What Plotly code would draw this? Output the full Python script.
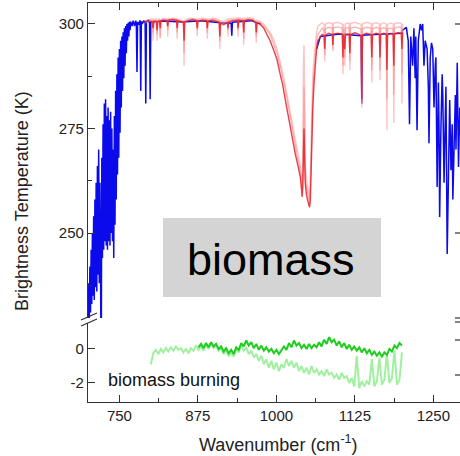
import plotly.graph_objects as go

# ---------------- data ----------------
wn_blue = [700,701,702,703,704,705,706,707,708,709,710,711,712,713,714,715,716,717,718,719,
           720,721,722,723,724,725,726,727,728,729,730,731,732,733,734,735,736,737,738,739,
           740,741,742,743,744,745,746,747,748,749,750,751,752,753,754,755,756,757,758,759,
           760,761,762,763,764,765,766,767,768,770,772,774,776,777,778,779,781,783,784,785,
           787,789,791,792,793,796,798,799,800,
           820,850,880,910,928,929,930,960,975,990,1064,1070,
           1100,1135,1136,1137,1170,1199,
           1201,1204,1207,1209,1210,1212,1214,1217,1219,1221,1222,1224,1226,1229,1231,1233,1235,1237,1240,1242,
           1243,1245,1247,1249,1251,1253,1254,1256,1258,1259,1260,1262,1264,1265,1267,1269,1270,1272,1274,1276,
           1278,1280,1281,1283,1285,1286,1288,1290,1292,1294]
bt_blue = [226,238,229,242,231,246,233,250,235,254,234,258,237,262,236,266,240,270,238,262,
           242,212,268,244,276,246,281,248,282,247,278,246,280,248,277,247,279,250,275,248,
           270,244,278,252,284,258,288,264,292,268,294,274,296,280,297,284,298,287,299,290,
           299.5,293,300,296,300.3,297,300.5,298.5,300.6,299.5,300.8,299.5,300.8,300,288.5,300.5,299.8,300.9,284,300.6,
           300.2,300.8,300.2,281,300.5,300.9,300.2,282,300.5,
           300.7,300.5,300.8,300.3,300.2,297.2,300.4,300.8,300,None,294,297,
           297.6,297.2,281,297.3,297.6,297.8,
           298.5,298.8,299.2,297,296,276,297,290,299,287,297,274.6,296,300,298.5,300,290,296,294,285,
           271.5,292,295.5,294,280,290,292,261,286,275,253.8,275,288,283,262,278,285,245,270,281.8,
           265,276,258,275,283,270,290.7,265.8,280,272]

wn_mid = [790,796,802,803.5,805,809,810,811,814,815,816,820,826,827,828,835,841,842,843,848,
          852,853,854,860,866,873,874,875,882,889,890,891,898,905,909,910,911,916,922,923,
          924,930,938,939,940,947,948,949,955,962,967,968,969,974,980,985,990,995,1001,1006,
          1010,1014,1017,1021,1024,1027,1030,1033,1036,1038,1040,1041,1042,1043,1044,1045,1046,1048,1050,1052,
          1053,1054,1055,1056,1057,1058,1060,1062,1064,1066,1070,1073,1076,1077,1078,1083,1089,1090,1091,1098,
          1105,1106,1107,1109,1110,1116,1117,1118,1125,1131,1135,1136,1137,1143,1151,1152,1153,1159,1164,1165,
          1166,1171,1175,1176,1177,1182,1186,1187,1188,1194,1199,1200,1201]
bt_red = [300.5,300.8,300.6,299,300.7,300.6,298.5,300.5,300.7,299,300.8,300.9,300.8,299.5,300.9,301,300.9,299,300.8,300.6,
          300.4,296,300.5,300.8,301,300.8,299,300.7,300.9,300.8,299,300.7,300.9,300.6,300.4,297,300.2,299.8,300.3,299,
          300.4,300.8,300.9,299,300.9,300.8,298,300.8,301,300.9,300.3,298,300.3,300,299,297.5,296,294,291.5,288,
          285.5,282,279.5,276,273.5,271.5,269,267,265,263.5,260.5,258.6,261,270,275,268,262,259,257.5,256.5,
          256.2,258,263,270,276,280,286,291,294,296,297,297.5,297.2,294,297.3,297.8,297.5,295,297.6,297.8,
          297.5,292,297.4,294,297.5,297.6,293,297.5,297.9,297.6,297.2,282,297.3,297.8,297.5,292,297.4,297.8,297.5,292,
          297.4,297.8,297.5,289,297.4,297.7,297.5,290,297.6,297.9,297.8,294,298]
bt_pink_a = [300.8,301,301.2,296,301,301.2,296,301,301.3,296.5,301.1,301.4,301.2,297,301.3,301.4,301.3,296.5,301.2,301,
             300.8,290,300.9,301.3,301.4,301.2,297,301.2,301.4,301.3,296.5,301.1,301.4,301.2,301,294,300.8,300.6,301.2,297,
             301.2,301.4,301.4,297,301.5,301.3,295,301.3,301.5,301.4,300.8,295.5,300.9,300.6,300,299,298,296.5,294,291,
             288.5,285.5,283,279.5,277,275,272.5,270,268,266,264,261,265,290,295,285,266,263,261.5,260,
             258.5,263,270,278,284,288,292,295.5,298,299.5,300,300.3,299.8,291,300,300.3,300.1,293.5,300.2,300.4,
             300,288,300,290,300.1,300.2,289,300.1,300.4,300.2,299.9,280,300,300.4,300.1,286,300,300.3,300,286.6,
             299.9,300.3,300,274.6,299.9,300.2,300,276.3,300.1,300.3,300.1,281,300]
bt_pink_b = [300.2,300.6,300.8,298,300.9,300.5,297.5,300.6,300.8,297,300.7,301,301,298.5,301,301.2,301,298,300.9,300.7,
             300.5,293,300.6,301,301.2,301,298.5,300.9,301.1,301,298,300.8,301.1,300.9,300.6,296,300.4,300.2,300.6,298.5,
             300.7,301,301.1,298.5,301.2,301,296.5,301,301.2,301.1,300.6,297,300.5,300.3,299.5,298.5,297.5,295.5,293,290,
             287.5,284.5,282,278.5,275.5,273,271,268.5,266.5,265,262,259.5,263,280,285,275,263,261,259,258,
             257,260,266,274,280,284,289,293,296,297.5,298.5,299,298.5,292.5,298.8,299.2,299,294,299.1,299.3,
             299,290,298.8,292,299,299.2,291,299,299.3,299,298.8,281,298.8,299.2,299,289,298.8,299.2,299,289,
             298.8,299.1,298.9,282,298.8,299,298.9,283,299,299.3,299.2,288,299]

wn_light_green = [800,804,808,812,816,820,824,828,832,836,840,844,848,852,856,860,864,868,872,876,
                  880,884,888,892,896,900,904,908,912,916,920,924,928,932,936,940,944,948,952,956,
                  960,964,968,972,976,980,984,988,992,996,1000,1004,1008,1012,1016,1020,1024,1028,1032,1036,
                  1040,1044,1048,1052,1056,1060,1064,1068,1072,1076,1080,1084,1088,1092,1096,1100,1104,1108,1112,1116,
                  1120,1124,1128,1132,1136,1140,1144,1148,1152,1156,1160,1164,1168,1172,1176,1180,1184,1188,1192,1196,1200]
dbt_light_green = [-0.9,-0.25,-0.05,-0.3,0.0,-0.2,0.05,-0.15,0.1,-0.1,0.15,-0.05,0.05,-0.2,0.0,-0.25,0.05,-0.1,0.2,-0.05,
                   0.15,-0.1,0.25,0.0,0.3,0.05,0.2,-0.1,0.05,-0.3,-0.1,-0.4,-0.2,-0.45,0.0,-0.2,0.2,-0.1,0.1,-0.3,
                   -0.1,-0.5,-0.3,-0.7,-0.4,-0.9,-0.6,-1.1,-0.7,-1.2,-0.8,-1.3,-0.9,-1.1,-0.6,-1.0,-0.7,-1.1,-0.8,-1.3,
                   -1.0,-1.4,-1.1,-1.5,-1.0,-1.4,-1.2,-1.5,-1.3,-1.6,-1.2,-1.5,-1.4,-1.7,-1.5,-1.8,-1.4,-1.7,-1.6,-2.0,
                   -1.7,-2.2,-0.4,-2.3,-1.9,-2.2,-1.9,-2.1,-0.6,-2.2,-1.9,-0.5,-2.1,-1.8,-0.3,-2.0,-1.7,-0.1,-2.1,-1.8,-0.2]

wn_dark_green = [876,880,884,888,892,896,900,904,908,912,916,920,924,928,932,936,940,944,948,952,
                 956,960,964,968,972,976,980,984,988,992,996,1000,1004,1008,1012,1016,1020,1024,1028,1032,
                 1036,1040,1044,1048,1052,1056,1060,1064,1068,1072,1076,1080,1084,1088,1092,1096,1100,1104,1108,1112,
                 1116,1120,1124,1128,1132,1136,1140,1144,1148,1152,1156,1160,1164,1168,1172,1176,1180,1184,1188,1192,
                 1196,1200]
dbt_dark_green = [0.1,0.3,0.05,0.35,0.1,0.4,0.15,0.3,0.0,0.15,-0.15,0.05,-0.25,-0.05,-0.3,0.1,-0.05,0.35,0.15,0.5,
                  0.2,0.4,0.05,0.3,-0.05,0.2,-0.1,0.1,-0.15,0.0,-0.25,-0.05,-0.3,-0.1,0.15,-0.05,0.35,0.1,0.5,0.2,
                  0.35,0.05,0.25,0.0,0.3,0.05,0.25,0.1,0.4,0.15,0.55,0.3,0.7,0.4,0.55,0.2,0.45,0.1,0.35,0.0,
                  0.25,-0.05,0.15,-0.1,0.1,-0.2,0.05,-0.25,-0.05,-0.35,-0.15,-0.4,-0.2,-0.45,-0.2,-0.35,0.0,-0.15,0.2,0.05,
                  0.35,0.2]

x_ticks = [750, 875, 1000, 1125, 1250]
y_ticks_top = [250, 275, 300]
y_ticks_bottom = [-2, 0]
y_ticklabels_bottom = ["-2", "0"]

# ---------------- figure ----------------
W, H = 460, 456
L, R, T, B = 88, 0, 3, 54
PW, PH = W - L - R, H - T - B


def px(xp):
    return (xp - L) / PW


def py(yp):
    return (H - B - yp) / PH


fig = go.Figure()
fig.add_trace(go.Scatter(x=wn_blue, y=bt_blue, mode="lines", xaxis="x", yaxis="y", connectgaps=False,
                         line=dict(color="rgb(10,10,235)", width=1.5)))
fig.add_trace(go.Scatter(x=wn_mid, y=bt_pink_b, mode="lines", xaxis="x", yaxis="y",
                         line=dict(color="rgba(245,120,120,0.55)", width=1.4)))
fig.add_trace(go.Scatter(x=wn_mid, y=bt_pink_a, mode="lines", xaxis="x", yaxis="y",
                         line=dict(color="rgba(250,150,150,0.55)", width=1.4)))
fig.add_trace(go.Scatter(x=wn_mid, y=bt_red, mode="lines", xaxis="x", yaxis="y",
                         line=dict(color="rgba(230,30,40,0.85)", width=1.4)))
fig.add_trace(go.Scatter(x=wn_light_green, y=dbt_light_green, mode="lines", xaxis="x2", yaxis="y2",
                         line=dict(color="rgba(150,238,150,0.9)", width=2)))
fig.add_trace(go.Scatter(x=wn_dark_green, y=dbt_dark_green, mode="lines", xaxis="x2", yaxis="y2",
                         line=dict(color="rgb(30,205,30)", width=2)))

axcol = "#333333"
tickfont = dict(family="Liberation Sans, Arial, sans-serif", size=15, color="#222222")
xr = [700, 1292.4]
common_x = dict(range=xr, showline=True, linecolor=axcol, linewidth=1.3, showgrid=False, zeroline=False,
                ticks="inside", ticklen=7, tickwidth=1.3, tickcolor=axcol, tickvals=x_ticks,
                minor=dict(ticks="inside", ticklen=4, tickwidth=1.2, tickcolor=axcol,
                           tickvals=[812.5, 937.5, 1062.5, 1187.5]))

fig.update_layout(
    width=W, height=H, margin=dict(l=L, r=R, t=T, b=B),
    paper_bgcolor="white", plot_bgcolor="white", showlegend=False,
    xaxis=dict(common_x, domain=[0, 1], anchor="y", side="top", showticklabels=False),
    yaxis=dict(domain=[py(318), 1], range=[229.67, 305.02], anchor="x", showline=True, linecolor=axcol,
               linewidth=1.3, showgrid=False, zeroline=False, ticks="inside", ticklen=7, tickwidth=1.3,
               tickcolor=axcol, tickvals=y_ticks_top, tickfont=tickfont,
               minor=dict(ticks="inside", ticklen=4, tickwidth=1.2, tickcolor=axcol,
                          tickvals=[237.5, 262.5, 287.5])),
    xaxis2=dict(common_x, domain=[0, 1], anchor="y2", tickfont=tickfont),
    yaxis2=dict(domain=[0, py(323)], range=[-3.12, 1.53], anchor="x2", showline=True, linecolor=axcol,
                linewidth=1.3, showgrid=False, zeroline=False, ticks="inside", ticklen=7, tickwidth=1.3,
                tickcolor=axcol, tickvals=y_ticks_bottom, ticktext=y_ticklabels_bottom, tickfont=tickfont),
)

shapes = []
# gray label box
shapes.append(dict(type="rect", xref="paper", yref="paper", x0=px(163), x1=px(381), y0=py(297), y1=py(218),
                   fillcolor="rgb(212,212,212)", line=dict(width=0), layer="above"))
# axis break marks
for off in (0, 6):
    shapes.append(dict(type="line", xref="paper", yref="paper", x0=px(81), y0=py(320 + off),
                       x1=px(97), y1=py(313 + off), line=dict(color=axcol, width=1.3)))
# ticks of the neighbouring (cropped) panel at the right edge
for yp in (24, 128, 233, 318, 322, 340, 375):
    shapes.append(dict(type="line", xref="paper", yref="paper", x0=px(455), x1=px(460), y0=py(yp), y1=py(yp),
                       line=dict(color=axcol, width=1.2)))
fig.update_layout(shapes=shapes)

font = "Liberation Sans, Arial, sans-serif"
fig.add_annotation(xref="paper", yref="paper", x=px(271), y=py(259), text="biomass", showarrow=False,
                   font=dict(family=font, size=45, color="black"), xanchor="center", yanchor="middle")
fig.add_annotation(xref="paper", yref="paper", x=px(106), y=py(380), text="biomass burning", showarrow=False,
                   font=dict(family=font, size=18, color="#111111"), xanchor="left", yanchor="middle")
fig.add_annotation(xref="paper", yref="paper", x=px(22), y=py(201), text="Brightness Temperature (K)",
                   showarrow=False, textangle=-90, font=dict(family=font, size=18, color="#222222"),
                   xanchor="center", yanchor="middle")
fig.add_annotation(xref="paper", yref="paper", x=px(278), y=py(443), text="Wavenumber (cm<sup>-1</sup>)",
                   showarrow=False, font=dict(family=font, size=18, color="#222222"),
                   xanchor="center", yanchor="middle")

fig.write_html("out.html")
